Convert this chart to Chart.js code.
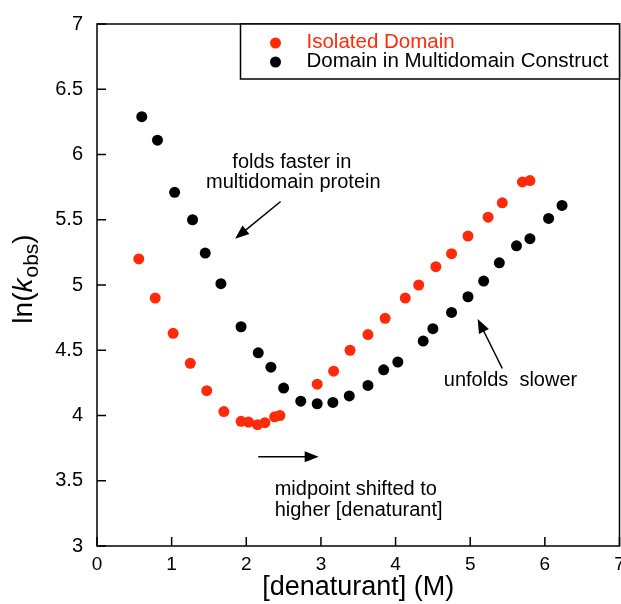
<!DOCTYPE html>
<html>
<head>
<meta charset="utf-8">
<script src="https://cdn.jsdelivr.net/npm/chart.js@4"></script>
<style>
  body { margin: 0; background: #fff; overflow: hidden; }
  #wrap { width: 621px; height: 604px; overflow: hidden; }
</style>
</head>
<body>
<div id="wrap"><canvas id="kinChart" width="625" height="604"></canvas></div>
<script>
// denaturant concentration (M) and ln(k_obs)
const isolatedX = [0.56, 0.78, 1.02, 1.25, 1.47, 1.70, 1.93, 2.03, 2.15, 2.25, 2.38, 2.45, 2.95, 3.17, 3.39, 3.63, 3.86, 4.13, 4.31, 4.54, 4.75, 4.97, 5.24, 5.43, 5.70, 5.80];
const isolatedY = [5.20, 4.90, 4.63, 4.40, 4.19, 4.03, 3.955, 3.95, 3.93, 3.945, 3.99, 4.00, 4.24, 4.34, 4.50, 4.62, 4.745, 4.90, 5.00, 5.14, 5.24, 5.375, 5.52, 5.63, 5.79, 5.80];
const multiX = [0.60, 0.81, 1.04, 1.28, 1.45, 1.66, 1.93, 2.16, 2.33, 2.50, 2.73, 2.95, 3.16, 3.38, 3.63, 3.84, 4.03, 4.37, 4.50, 4.75, 4.97, 5.18, 5.39, 5.62, 5.80, 6.05, 6.23];
const multiY = [6.29, 6.11, 5.71, 5.50, 5.245, 5.01, 4.68, 4.48, 4.37, 4.21, 4.11, 4.09, 4.10, 4.15, 4.23, 4.35, 4.41, 4.57, 4.665, 4.79, 4.91, 5.03, 5.17, 5.30, 5.355, 5.51, 5.61];
const xTicks = [0, 1, 2, 3, 4, 5, 6, 7];
const yTicks = [3, 3.5, 4, 4.5, 5, 5.5, 6, 6.5, 7];
const seriesNames = ['Isolated Domain', 'Domain in Multidomain Construct'];
const seriesColors = ['#ff2a0a', '#000000'];

const FONT = '"Liberation Sans", Arial, Helvetica, sans-serif';

function toPoints(xs, ys) {
    return xs.map((x, i) => ({ x: x, y: ys[i] }));
}

function arrow(c, x1, y1, x2, y2) {
    const ang = Math.atan2(y2 - y1, x2 - x1);
    const len = 14, wid = 5.5;
    c.beginPath();
    c.moveTo(x1, y1);
    c.lineTo(x2 - Math.cos(ang) * len * 0.8, y2 - Math.sin(ang) * len * 0.8);
    c.stroke();
    c.beginPath();
    c.moveTo(x2, y2);
    c.lineTo(x2 - Math.cos(ang) * len - Math.sin(ang) * wid, y2 - Math.sin(ang) * len + Math.cos(ang) * wid);
    c.lineTo(x2 - Math.cos(ang) * len + Math.sin(ang) * wid, y2 - Math.sin(ang) * len - Math.cos(ang) * wid);
    c.closePath();
    c.fill();
}

const decorations = {
    id: 'decorations',
    afterDatasetsDraw(chart) {
        const c = chart.ctx;
        const a = chart.chartArea;
        const xs = chart.scales.x, ys = chart.scales.y;
        const px = v => xs.getPixelForValue(v);
        const py = v => ys.getPixelForValue(v);

        c.save();
        c.strokeStyle = '#000';
        c.fillStyle = '#000';
        c.lineWidth = 1.5;

        // frame
        c.strokeRect(a.left, a.top, a.right - a.left, a.bottom - a.top);

        // inward ticks
        c.beginPath();
        xTicks.forEach(t => {
            c.moveTo(px(t), a.bottom);
            c.lineTo(px(t), a.bottom - 9);
        });
        yTicks.forEach(t => {
            c.moveTo(a.left, py(t));
            c.lineTo(a.left + 9, py(t));
        });
        c.stroke();

        // legend box
        const lx = a.right - 379, ly = a.top, lh = 55;
        c.fillStyle = '#fff';
        c.fillRect(lx, ly, a.right - lx, lh);
        c.strokeRect(lx, ly, a.right - lx, lh);
        c.font = '20.5px ' + FONT;
        c.textBaseline = 'middle';
        c.textAlign = 'left';
        seriesNames.forEach((name, i) => {
            const yy = ly + 19 + i * 19;
            c.fillStyle = seriesColors[i];
            c.beginPath();
            c.arc(lx + 35, yy, 5.5, 0, Math.PI * 2);
            c.fill();
            c.fillText(name, lx + 66, yy - 1);
        });

        // annotations
        c.fillStyle = '#000';
        c.font = '20px ' + FONT;
        c.textAlign = 'center';
        c.fillText('folds faster in', px(2.61), py(5.94));
        c.fillText('multidomain protein', px(2.63), py(5.785));
        arrow(c, px(2.46), py(5.64), px(1.85), py(5.355));

        c.fillText('unfolds  slower', px(5.54), py(4.27));
        arrow(c, px(5.43), py(4.36), px(5.10), py(4.74));

        c.textAlign = 'left';
        c.fillText('midpoint shifted to', px(2.38), py(3.43));
        c.fillText('higher [denaturant]', px(2.38), py(3.275));
        arrow(c, px(2.16), py(3.684), px(2.97), py(3.684));

        // y axis title: ln(k_obs)
        c.translate(24, (a.top + a.bottom) / 2 - 6);
        c.rotate(-Math.PI / 2);
        c.textAlign = 'left';
        c.textBaseline = 'middle';
        const big = '28px ' + FONT, ital = 'italic 28px ' + FONT, small = '21px ' + FONT;
        c.font = big; const w1 = c.measureText('ln(').width;
        c.font = ital; const w2 = c.measureText('k').width + 1;
        c.font = small; const w3 = c.measureText('obs').width;
        c.font = big; const w4 = c.measureText(')').width;
        let x0 = -(w1 + w2 + w3 + w4) / 2;
        c.font = big; c.fillText('ln(', x0, 0); x0 += w1;
        c.font = ital; c.fillText('k', x0, 0); x0 += w2;
        c.font = small; c.fillText('obs', x0, 8); x0 += w3;
        c.font = big; c.fillText(')', x0, 0);
        c.restore();
    }
};

new Chart(document.getElementById('kinChart'), {
    type: 'scatter',
    data: {
        datasets: [
            {
                label: seriesNames[0],
                data: toPoints(isolatedX, isolatedY),
                backgroundColor: seriesColors[0],
                borderWidth: 0,
                pointRadius: 5.5,
                pointHoverRadius: 5.5
            },
            {
                label: seriesNames[1],
                data: toPoints(multiX, multiY),
                backgroundColor: seriesColors[1],
                borderWidth: 0,
                pointRadius: 5.5,
                pointHoverRadius: 5.5
            }
        ]
    },
    options: {
        responsive: false,
        animation: false,
        layout: { padding: { top: 24, right: 0, left: 0, bottom: 0 } },
        plugins: { legend: { display: false }, tooltip: { enabled: false } },
        scales: {
            x: {
                type: 'linear',
                min: 0, max: 7,
                afterBuildTicks: s => { s.ticks = xTicks.map(v => ({ value: v })); },
                afterFit: s => { s.height = 58; s.paddingLeft = 0; s.paddingRight = 0; },
                grid: { display: false, drawTicks: false },
                border: { display: false },
                ticks: { color: '#000', padding: 7, font: { family: FONT, size: 19 }, callback: v => String(v) },
                title: {
                    display: true,
                    text: '[denaturant] (M)',
                    color: '#000',
                    font: { family: FONT, size: 27 },
                    padding: { top: 0, bottom: 0 }
                }
            },
            y: {
                type: 'linear',
                min: 3, max: 7,
                afterBuildTicks: s => { s.ticks = yTicks.map(v => ({ value: v })); },
                afterFit: s => { s.width = 97; s.paddingTop = 0; s.paddingBottom = 0; },
                grid: { display: false, drawTicks: false },
                border: { display: false },
                ticks: { color: '#000', padding: 14, font: { family: FONT, size: 20 }, callback: v => String(v) }
            }
        }
    },
    plugins: [decorations]
});
</script>
</body>
</html>
